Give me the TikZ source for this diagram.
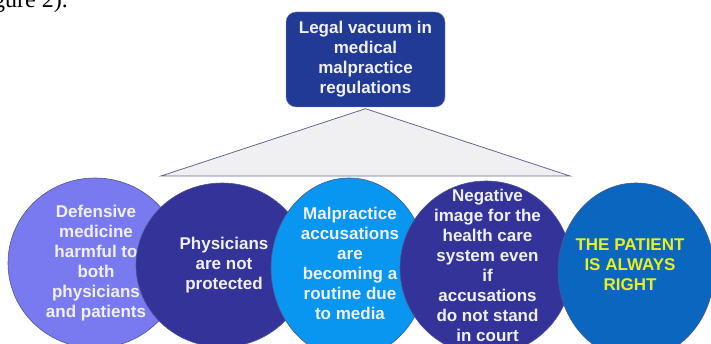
\documentclass[tikz,border=0pt]{standalone}
\usepackage{fontspec}
\setmainfont{Liberation Sans}
\newfontfamily\pageserif{Liberation Serif}
\usetikzlibrary{shapes.geometric}
\definecolor{boxblue}{RGB}{32,58,150}
\definecolor{boxrim}{RGB}{120,140,200}
\definecolor{fanfill}{RGB}{240,240,242}
\definecolor{fanrim}{RGB}{96,104,144}
\definecolor{lavender}{RGB}{122,122,240}
\definecolor{indigo}{RGB}{51,51,153}
\definecolor{skyblue}{RGB}{8,150,240}
\definecolor{ocean}{RGB}{10,102,190}
\definecolor{rimblue}{RGB}{80,86,140}
\definecolor{textwhite}{RGB}{240,240,246}
\definecolor{textyellow}{RGB}{232,240,32}

\begin{document}
\begin{tikzpicture}[x=1pt,y=-1pt,
		txt/.style={text=textwhite,font=\bfseries\fontsize{17}{20}\selectfont,align=center,inner sep=0pt},
		bubble/.style={ellipse,draw=rimblue,line width=0.6pt,inner sep=0pt}]
		\useasboundingbox (0,0) rectangle (711,344);
		\node[anchor=base east,inner sep=0pt,font=\pageserif\fontsize{24}{28}\selectfont] (caption) at (68,7.5) {Figure 2).};
		\node[txt,fill=boxblue,draw=boxrim,rounded corners=10pt,minimum width=159pt,minimum height=95pt] (legal) at (365.5,59.5) {Legal vacuum in\\medical\\malpractice\\regulations};
		\coordinate (fanL) at (161,176);
		\coordinate (fanR) at (570,176);
		\filldraw[fill=fanfill,draw=fanrim,line width=0.8pt] ([yshift=-1.5pt]legal.south) -- (fanR) -- (fanL) -- cycle;
		% the five bubbles, each one over the one before
		\node[bubble,fill=lavender,minimum width=174pt,minimum height=170pt] (defensive) at (95,263) {};
		\node[txt] (defensivetxt) at (96,263) {Defensive\\medicine\\harmful to\\both\\physicians\\and patients};
		\node[bubble,fill=indigo,minimum width=172pt,minimum height=164pt] (physicians) at (222,265) {};
		\node[txt] (physicianstxt) at (224,265) {Physicians\\are not\\protected};
		\node[bubble,fill=skyblue,minimum width=156pt,minimum height=180pt] (accusations) at (349,268) {};
		\node[txt] (accusationstxt) at (350,263) {Malpractice\\accusations\\are\\becoming a\\routine due\\to media};
		\node[bubble,fill=indigo,minimum width=172pt,minimum height=174pt] (image) at (486,268) {};
		\node[txt] (imagetxt) at (487.5,265) {Negative\\image for the\\health care\\system even\\if\\accusations\\do not stand\\in court};
		\node[bubble,fill=ocean,minimum width=156pt,minimum height=176pt] (patient) at (636,271) {};
		\node[txt,text=textyellow] (patienttxt) at (630,265) {THE PATIENT\\IS ALWAYS\\RIGHT};
	\end{tikzpicture}
\end{document}
